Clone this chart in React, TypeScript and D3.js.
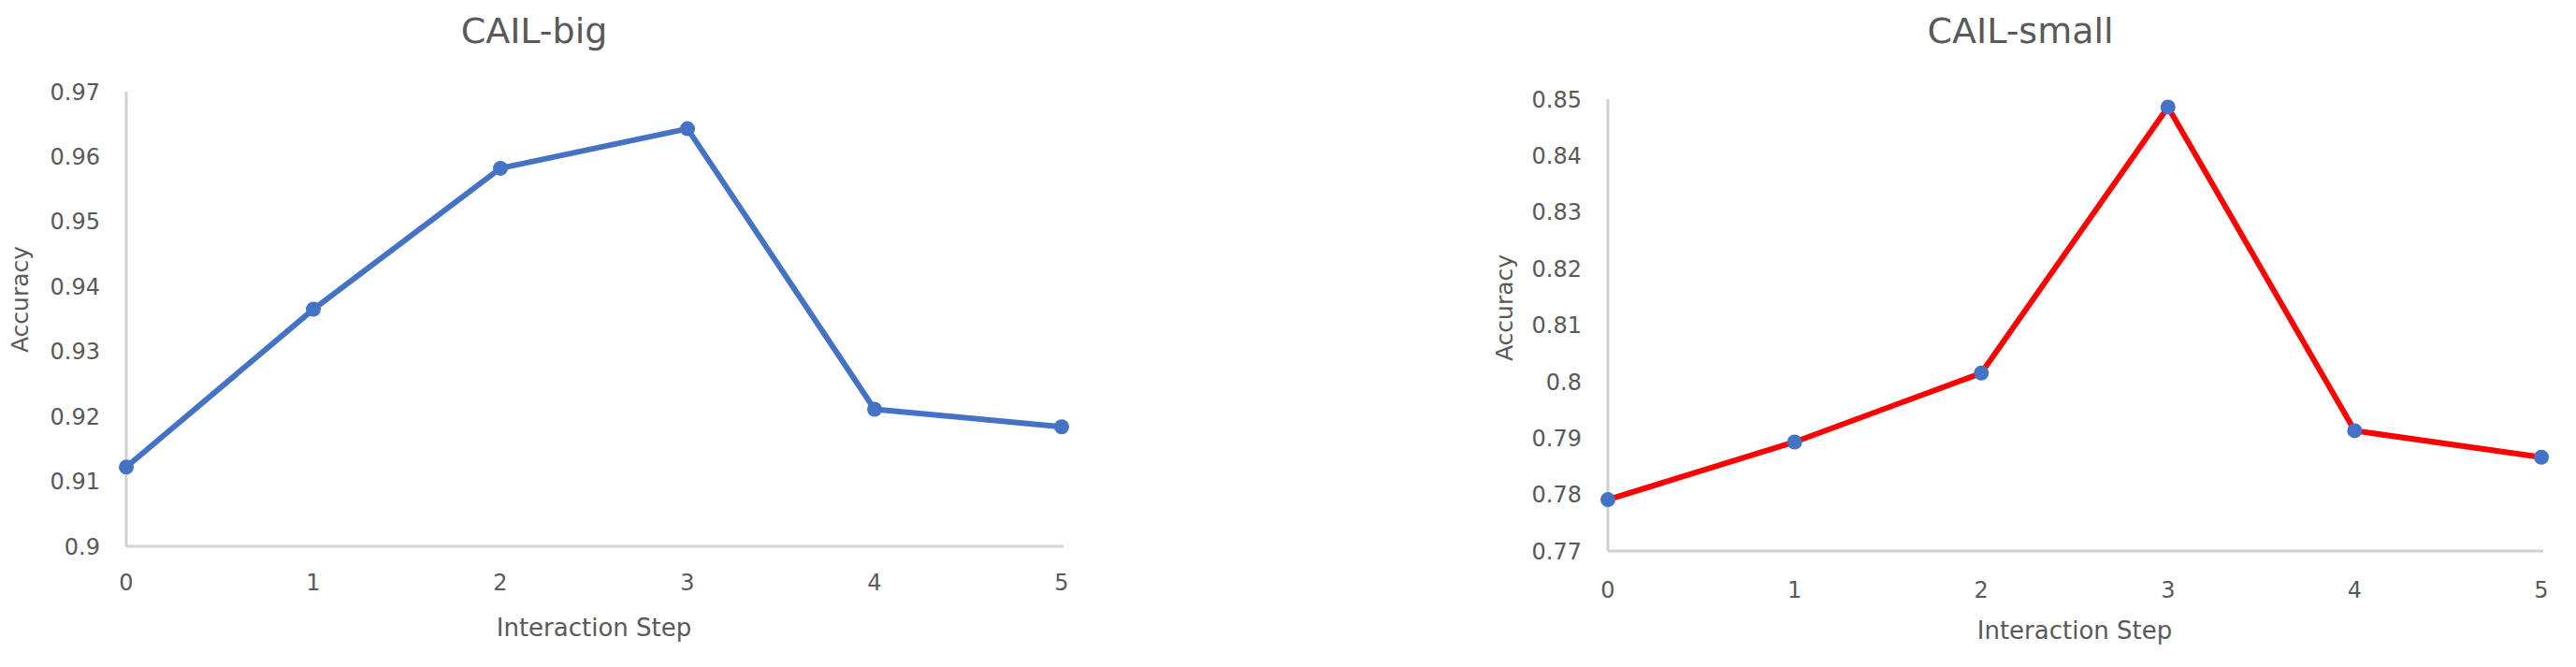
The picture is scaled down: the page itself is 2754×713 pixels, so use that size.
import React from "react";
import * as d3 from "d3";

const steps = [0, 1, 2, 3, 4, 5];
const cailBig = [0.9122, 0.9365, 0.9582, 0.9643, 0.9211, 0.9184];
const cailSmall = [0.7791, 0.7893, 0.8015, 0.8486, 0.7913, 0.7866];
const bigTicks = [0.9, 0.91, 0.92, 0.93, 0.94, 0.95, 0.96, 0.97];
const smallTicks = [0.77, 0.78, 0.79, 0.8, 0.81, 0.82, 0.83, 0.84, 0.85];

const W = 2754;
const H = 713;
const FONT = "'DejaVu Sans', sans-serif";
const TXT = "#595959";

type PanelProps = {
  title: string;
  values: number[];
  ticks: number[];
  x0: number;
  x1: number;
  yTop: number;
  yBot: number;
  lineColor: string;
  markerColor: string;
  titleX: number;
  yLabelX: number;
  yLabelY: number;
  xTickDy: number;
  xTitleY: number;
};

function Panel(p: PanelProps) {
  const x = d3.scaleLinear().domain([0, 5]).range([p.x0, p.x1]);
  const y = d3
    .scaleLinear()
    .domain([p.ticks[0], p.ticks[p.ticks.length - 1]])
    .range([p.yBot, p.yTop]);
  const line = d3
    .line<number>()
    .x((_, i) => x(steps[i]))
    .y((d) => y(d));
  const fmt = (v: number) => String(+v.toFixed(2));
  return (
    <g>
      <text
        x={p.titleX}
        y={46}
        textAnchor="middle"
        fontFamily={FONT}
        fontSize={38}
        fill={TXT}
      >
        {p.title}
      </text>
      <line x1={p.x0} x2={p.x0} y1={p.yTop} y2={p.yBot} stroke="#d0d0d0" strokeWidth={3} />
      <line x1={p.x0} x2={p.x1 + 2} y1={p.yBot} y2={p.yBot} stroke="#d0d0d0" strokeWidth={3} />
      {p.ticks.map((t) => (
        <text
          key={t}
          x={p.x0 - 28}
          y={y(t)}
          dy="0.36em"
          textAnchor="end"
          fontFamily={FONT}
          fontSize={24}
          fill={TXT}
        >
          {fmt(t)}
        </text>
      ))}
      {steps.map((s) => (
        <text
          key={s}
          x={x(s)}
          y={p.yBot + p.xTickDy}
          dy="0.36em"
          textAnchor="middle"
          fontFamily={FONT}
          fontSize={24}
          fill={TXT}
        >
          {s}
        </text>
      ))}
      <text
        x={(p.x0 + p.x1) / 2}
        y={p.xTitleY}
        dy="0.36em"
        textAnchor="middle"
        fontFamily={FONT}
        fontSize={26}
        fill={TXT}
      >
        Interaction Step
      </text>
      <text
        transform={`translate(${p.yLabelX},${p.yLabelY}) rotate(-90)`}
        dy="0.36em"
        textAnchor="middle"
        fontFamily={FONT}
        fontSize={25}
        fill={TXT}
      >
        Accuracy
      </text>
      <path d={line(p.values) || ""} fill="none" stroke={p.lineColor} strokeWidth={6} strokeLinejoin="round" />
      {p.values.map((v, i) => (
        <circle key={i} cx={x(steps[i])} cy={y(v)} r={8} fill={p.markerColor} />
      ))}
    </g>
  );
}

export default function App() {
  return (
    <svg
      width={W}
      height={H}
      style={{ position: "absolute", left: 0, top: 0, background: "#fff" }}
    >
      <rect x={0} y={0} width={W} height={H} fill="#fff" />
      <Panel
        title="CAIL-big"
        values={cailBig}
        ticks={bigTicks}
        x0={135}
        x1={1135}
        yTop={98}
        yBot={584}
        lineColor="#4472C4"
        markerColor="#4472C4"
        titleX={571}
        yLabelX={21}
        yLabelY={320}
        xTickDy={38}
        xTitleY={671}
      />
      <Panel
        title="CAIL-small"
        values={cailSmall}
        ticks={smallTicks}
        x0={1719}
        x1={2717}
        yTop={106}
        yBot={589}
        lineColor="#FF0000"
        markerColor="#4472C4"
        titleX={2160}
        yLabelX={1608}
        yLabelY={329}
        xTickDy={41}
        xTitleY={674}
      />
    </svg>
  );
}
